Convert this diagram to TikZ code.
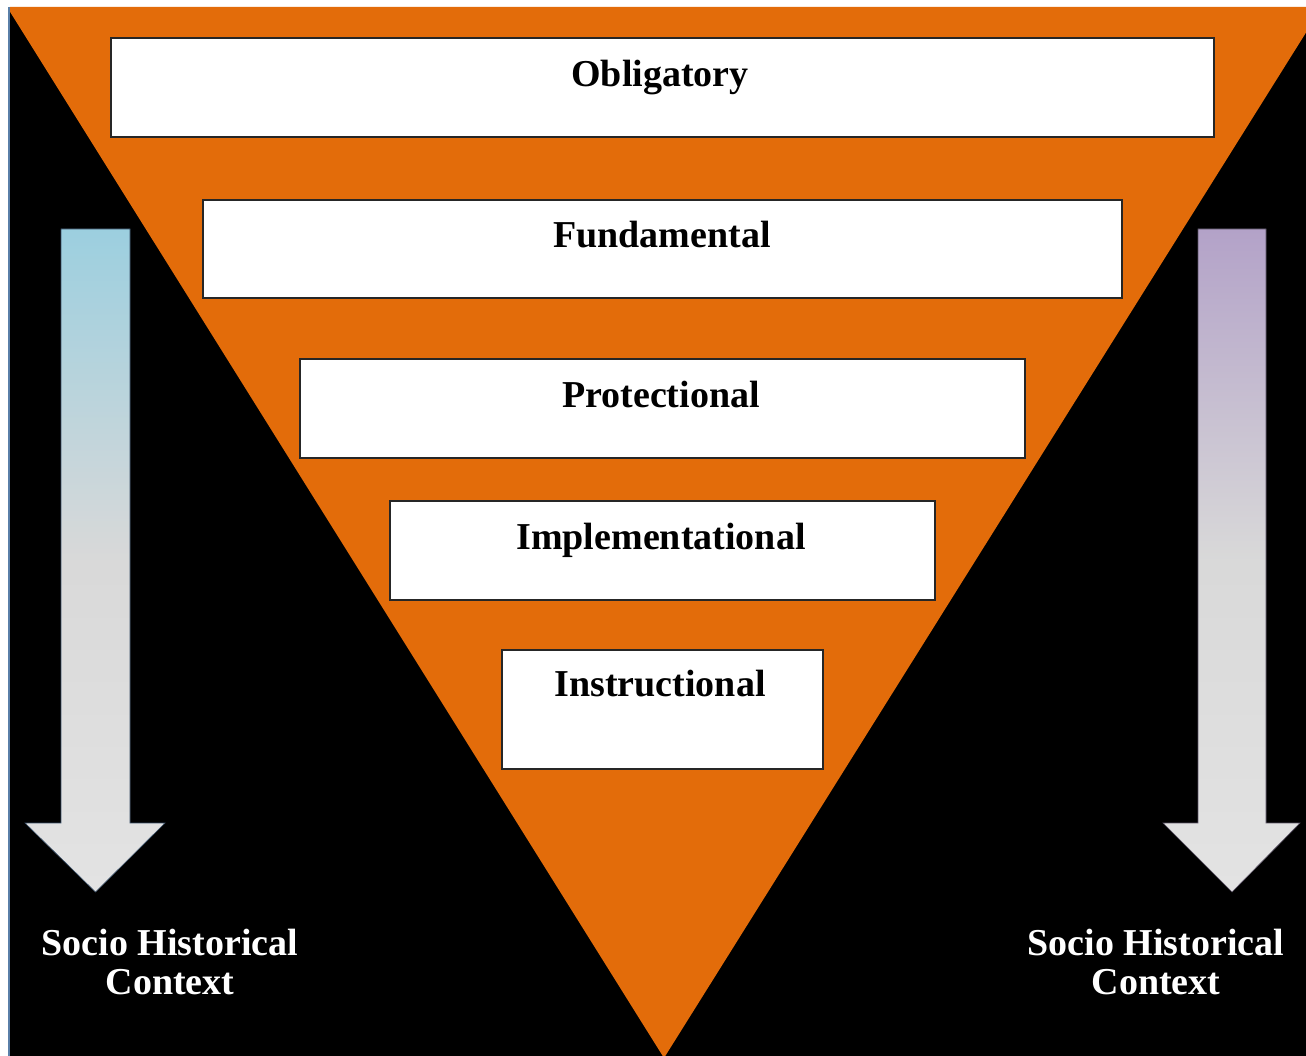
\documentclass[tikz,border=0pt]{standalone}
\usepackage{fontspec}
\setmainfont{Liberation Serif}
\definecolor{bgorange}{HTML}{E36C0A}
\definecolor{arrblue}{HTML}{9CCFDF}
\definecolor{arrpurple}{HTML}{B3A2C8}
\definecolor{arrgrey}{HTML}{E3E3E3}
\definecolor{edgeblue}{HTML}{5A7FA8}
\begin{document}
\begin{tikzpicture}[x=1pt,y=-1pt,
  box/.style={draw=black!85,line width=1.8pt,fill=white,inner sep=0pt},
  lbl/.style={anchor=base,font=\fontsize{38}{42}\selectfont\bfseries,text=black,inner sep=0pt},
  ctx/.style={align=center,font=\fontsize{38}{42}\selectfont\bfseries,text=white,inner sep=0pt}]
\useasboundingbox (0,0) rectangle (1306,1056);
\fill[white] (0,0) rectangle (1306,1056);
% black background
\fill[black] (9,7) rectangle (1306,1056);
\draw[edgeblue,line width=1.2pt] (9,7) -- (9,1056);
% inverted triangle
\begin{scope}
\clip (10,7) rectangle (1306,1056);
\fill[bgorange] (7,7) -- (1322,7) -- (664,1058) -- cycle;
\end{scope}
% boxes
\node[box,minimum width=1103pt,minimum height=99pt] (ob) at (662.5,87.5) {};
\node[box,minimum width=919pt,minimum height=98pt] (fu) at (662.5,249) {};
\node[box,minimum width=725pt,minimum height=99pt] (pr) at (662.5,408.5) {};
\node[box,minimum width=545pt,minimum height=99pt] (im) at (662.5,550.5) {};
\node[box,minimum width=321pt,minimum height=119pt] (in) at (662.5,709.5) {};
\node[lbl] (tob) at (660,87) {Obligatory};
\node[lbl] (tfu) at (662,248) {Fundamental};
\node[lbl] (tpr) at (661,407) {Protectional};
\node[lbl] (tim) at (661,549) {Implementational};
\node[lbl] (tin) at (660,696) {Instructional};
% left arrow
\shade[top color=arrblue,bottom color=arrgrey,middle color=black!15!white,draw=edgeblue!60!black,line width=0.6pt]
  (61,229) -- (130,229) -- (130,823) -- (165,823) -- (95.5,892) -- (25,823) -- (61,823) -- cycle;
% right arrow
\shade[top color=arrpurple,bottom color=arrgrey,middle color=black!15!white,draw=arrpurple!50!black,line width=0.6pt]
  (1198,229) -- (1266,229) -- (1266,823) -- (1300,823) -- (1232,892) -- (1163,823) -- (1198,823) -- cycle;
% context labels
\node[ctx,anchor=base] (cl1) at (170,955) {Socio Historical};
\node[ctx,anchor=base] (cl2) at (170,994) {Context};
\node[ctx,anchor=base] (cr1) at (1156,955) {Socio Historical};
\node[ctx,anchor=base] (cr2) at (1156,994) {Context};
\end{tikzpicture}
\end{document}
